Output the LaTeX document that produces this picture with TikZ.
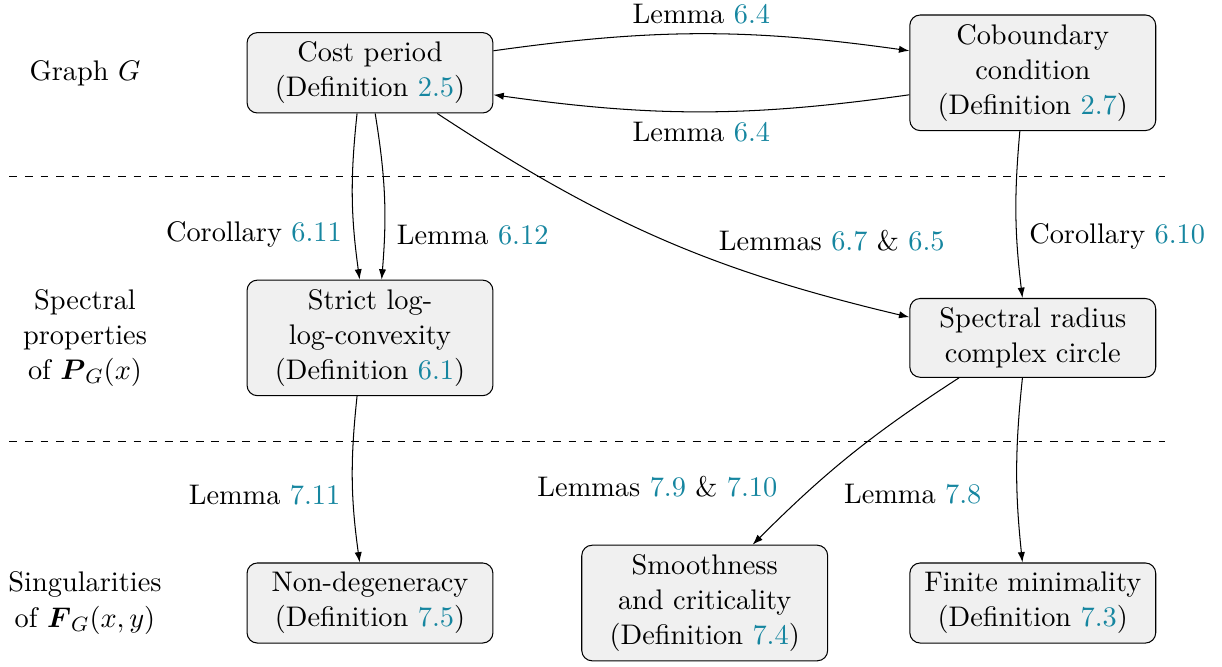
\documentclass[tikz,border=0pt,11pt]{standalone}
\usepackage{amsmath}
\usepackage{amssymb}
\usetikzlibrary{arrows.meta}
\definecolor{refcol}{RGB}{22,134,160}
\newcommand{\refnum}[1]{\textcolor{refcol}{#1}}

\begin{document}
\begin{tikzpicture}[x=4.5cm, y=3.6cm, >={Latex[length=4pt,width=2.8pt]}]
        \tikzstyle{defbox}=[draw,fill=black!6,rounded corners=4pt,text width=88pt,align=center,inner sep=3.5pt]
        \tikzstyle{rowlabel}=[align=center,inner sep=2pt]
        \tikzstyle{divider}=[dashed]

        \useasboundingbox (-1.1165,-0.2376) rectangle (2.571,2.2746);

        \node[rowlabel] (L_1) at (-0.86,2) {Graph $G$};
        \node[rowlabel] (L_2) at (-0.86,1) {Spectral\\properties\\of $\boldsymbol{P}_G(x)$};
        \node[rowlabel] (L_3) at (-0.86,0) {Singularities\\of $\boldsymbol{F}_G(x,y)$};

        \node[defbox] (D_1) at (0,2) {Cost period\\(Definition \refnum{2.5})};
        \node[defbox] (D_2) at (2,2) {Coboundary\\condition\\(Definition \refnum{2.7})};
        \node[defbox] (D_3) at (0,1) {Strict log-\\log-convexity\\(Definition \refnum{6.1})};
        \node[defbox] (D_4) at (2,1) {Spectral radius\\complex circle};
        \node[defbox] (D_5) at (0,0) {Non-degeneracy\\(Definition \refnum{7.5})};
        \node[defbox] (D_6) at (1.01,0) {Smoothness\\and criticality\\(Definition \refnum{7.4})};
        \node[defbox] (D_7) at (2,0) {Finite minimality\\(Definition \refnum{7.3})};

        % level separators
        \draw[divider] (-1.088,1.608) -- (2.40,1.608);
        \draw[divider] (-1.088,0.611) -- (2.40,0.611);

        \draw[->] ([yshift=8.5pt]D_1.east) to[bend left=8] node[midway,above] {Lemma \refnum{6.4}} ([yshift=8.5pt]D_2.west);
        \draw[->] ([yshift=-8.5pt]D_2.west) to[bend left=8] node[midway,below] {Lemma \refnum{6.4}} ([yshift=-8.5pt]D_1.east);
        \draw[->] ([xshift=-5pt]D_1.south) to[bend right=7] node[pos=0.74,left=1pt] {Corollary \refnum{6.11}} ([xshift=-4pt]D_3.north);
        \draw[->] ([xshift=2pt]D_1.south) to[bend left=7] node[pos=0.75,right=1pt] {Lemma \refnum{6.12}} ([xshift=4.5pt]D_3.north);
        \draw[->] ([xshift=26pt]D_1.south) to[bend right=10] node[pos=0.86,above=14pt] {Lemmas \refnum{6.7} \& \refnum{6.5}} ([yshift=8pt]D_4.west);
        \draw[->] ([xshift=-5pt]D_2.south) to[bend right=6] node[pos=0.64,right=1pt] {Corollary \refnum{6.10}} ([xshift=-4pt]D_4.north);
        \draw[->] ([xshift=-5pt]D_3.south) to[bend right=7] node[pos=0.6,left=1pt] {Lemma \refnum{7.11}} ([xshift=-4pt]D_5.north);
        \draw[->] ([xshift=-28.5pt]D_4.south) to[bend right=6] node[pos=0.7,left=10pt] {Lemmas \refnum{7.9} \& \refnum{7.10}} ([xshift=18.5pt]D_6.north);
        \draw[->] ([xshift=-4pt]D_4.south) to[bend right=6] node[pos=0.64,left=10pt] {Lemma \refnum{7.8}} ([xshift=-4pt]D_7.north);
\end{tikzpicture}
\end{document}
